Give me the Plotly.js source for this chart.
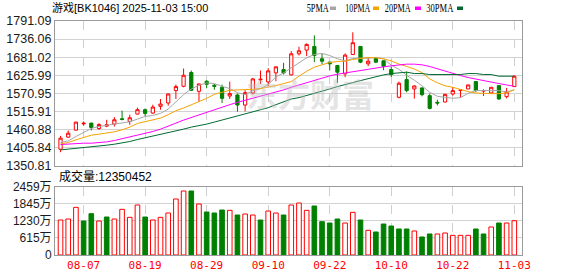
<!DOCTYPE html>
<html><head><meta charset="utf-8">
<script src="https://cdn.plot.ly/plotly-3.0.1.min.js"></script>
<style>html,body{margin:0;padding:0;background:#fff}#c{width:578px;height:276px}</style>
</head><body><div id="c"></div>
<script>
const dates = ["08-04","08-05","08-06","08-07","08-08","08-11","08-12","08-13","08-14","08-15","08-18","08-19","08-20","08-21","08-22","08-25","08-26","08-27","08-28","08-29",
"09-01","09-02","09-03","09-04","09-05","09-08","09-09","09-10","09-11","09-12","09-15","09-16","09-17","09-18","09-19","09-22","09-23","09-24","09-25","09-26","09-29","09-30",
"10-09","10-10","10-13","10-14","10-15","10-16","10-17","10-20","10-21","10-22","10-23","10-24","10-27","10-28","10-29","10-30","10-31","11-03"];
const openP = [1400.9,1437.6,1459.0,1478.0,1480.4,1464.1,1471.2,1477.4,1493.6,1485.5,1507.9,1521.2,1511.0,1531.4,1541.5,1579.3,1592.5,1634.3,1577.2,1607.8,1595.6,1589.4,1562.9,1566.0,1535.4,1572.1,1611.9,1605.8,1633.3,1643.4,1627.1,1691.3,1702.5,1713.8,1676.1,1665.9,1655.7,1630.2,1689.3,1713.8,1660.8,1677.1,1669.9,1643.4,1558.9,1612.9,1584.3,1587.4,1564.0,1543.6,1544.6,1569.1,1580.3,1584.3,1606.8,1578.2,1572.1,1594.5,1560.9,1591.5];
const highP = [1441.7,1458.0,1484.0,1485.5,1481.4,1480.4,1490.6,1498.7,1518.1,1505.9,1527.3,1525.2,1536.5,1553.8,1570.0,1597.6,1646.5,1640.4,1600.6,1610.8,1599.6,1597.6,1606.8,1570.1,1580.3,1618.0,1640.4,1647.5,1652.6,1663.8,1699.5,1712.7,1722.9,1747.4,1691.3,1666.9,1657.7,1692.4,1756.6,1714.8,1680.1,1681.2,1672.0,1652.6,1606.8,1637.3,1594.5,1589.4,1570.1,1551.7,1569.0,1590.4,1583.3,1597.0,1607.8,1583.3,1590.0,1595.0,1587.4,1625.1];
const lowP = [1391.8,1436.6,1458.0,1472.3,1458.0,1460.0,1468.2,1470.2,1488.6,1475.3,1506.9,1501.8,1509.0,1521.2,1533.4,1553.8,1589.4,1578.2,1546.6,1586.4,1582.3,1541.5,1553.8,1515.1,1516.1,1568.0,1599.6,1592.5,1607.8,1628.2,1626.1,1686.2,1684.2,1665.9,1659.8,1640.4,1602.7,1620.0,1688.3,1662.8,1653.6,1662.8,1641.4,1621.0,1555.8,1574.2,1554.8,1561.9,1522.2,1534.4,1543.6,1564.0,1557.8,1584.0,1575.2,1563.0,1571.0,1551.7,1555.8,1590.4];
const closeP = [1434.6,1449.8,1483.5,1480.0,1467.2,1476.0,1475.3,1490.6,1491.6,1496.7,1521.2,1510.0,1529.3,1538.5,1569.1,1591.5,1626.1,1580.3,1599.6,1598.6,1592.5,1555.8,1570.1,1535.4,1573.1,1614.9,1613.9,1639.4,1651.6,1633.3,1691.3,1700.5,1719.9,1686.2,1668.9,1660.8,1635.3,1687.3,1725.0,1665.9,1668.9,1665.9,1653.6,1628.2,1601.7,1579.3,1593.5,1567.0,1525.2,1541.5,1568.0,1579.3,1581.3,1596.6,1579.8,1579.3,1589.4,1553.8,1575.2,1623.1];
const ma5 = [1421.3,1426.4,1439.6,1451.9,1464.1,1470.2,1474.3,1478.4,1482.4,1484.5,1492.6,1500.8,1503.8,1510.0,1523.2,1546.6,1567.0,1584.3,1595.6,1602.7,1600.7,1592.5,1585.4,1573.1,1567.0,1579.3,1585.4,1597.6,1621.0,1633.3,1647.5,1663.8,1679.1,1689.3,1692.4,1686.2,1676.1,1669.9,1677.0,1678.5,1677.5,1680.5,1676.0,1657.0,1644.0,1626.0,1611.0,1594.0,1574.0,1562.0,1559.0,1556.0,1558.0,1571.0,1579.5,1580.3,1579.3,1579.3,1575.2,1581.3];
const ma10 = [1417.2,1421.3,1429.5,1437.6,1443.7,1446.8,1449.8,1453.9,1460.0,1468.2,1479.4,1484.5,1489.6,1495.7,1505.9,1518.1,1526.3,1535.4,1545.6,1555.8,1568.0,1575.2,1580.3,1581.3,1581.3,1583.3,1585.4,1589.4,1594.5,1600.7,1606.8,1623.1,1638.4,1650.6,1658.7,1664.8,1667.9,1668.9,1674.0,1678.1,1680.1,1679.1,1676.1,1669.9,1660.0,1653.0,1645.0,1634.0,1615.0,1603.0,1594.0,1589.4,1582.3,1576.2,1572.1,1570.1,1570.1,1570.1,1572.1,1582.3];
const ma20 = [1415.2,1417.2,1418.3,1419.3,1419.3,1420.3,1423.3,1427.4,1432.5,1437.6,1442.7,1448.8,1454.9,1462.1,1470.2,1480.4,1489.6,1497.7,1505.9,1513.0,1521.2,1529.3,1536.5,1543.6,1549.7,1554.8,1560.9,1567.0,1574.2,1581.3,1589.4,1596.6,1603.7,1609.8,1617.0,1624.1,1629.2,1633.3,1637.3,1641.4,1644.5,1647.5,1651.6,1654.7,1657.7,1659.8,1659.8,1657.7,1652.6,1645.5,1637.3,1630.2,1625.1,1619.0,1613.9,1608.8,1604.7,1600.7,1596.6,1592.5];
const ma30 = [1398.9,1400.9,1403.0,1405.0,1407.0,1410.1,1413.2,1416.2,1419.3,1424.4,1430.5,1435.6,1440.7,1445.8,1450.9,1454.9,1462.1,1468.2,1472.3,1477.4,1483.5,1489.6,1494.7,1500.8,1506.9,1514.0,1521.2,1527.3,1536.5,1545.6,1553.8,1557.9,1564.0,1570.1,1576.2,1584.3,1591.5,1596.6,1603.7,1609.8,1615.9,1622.1,1627.1,1631.2,1634.3,1635.3,1631.2,1631.2,1628.2,1628.2,1628.2,1628.2,1628.2,1631.2,1631.2,1628.2,1628.2,1623.1,1623.1,1623.1];
const volume = [1260,1296,1716,1224,1488,1224,1368,1296,1644,1356,1800,1368,1260,1356,1512,2016,2304,2304,1836,
1548,1512,1620,1608,1440,1476,1440,1260,1584,1512,1440,1800,1872,1608,1764,1200,1152,1296,1152,1536,1260,888,828,1116,1044,
936,936,864,648,756,756,792,708,708,708,936,756,1008,1152,1152,1235.0452];
const xTicks = ["08-07","08-19","08-29","09-10","09-22","10-10","10-22","11-03"];
const priceTicks = [1350.81,1405.84,1460.88,1515.91,1570.95,1625.99,1681.02,1736.06,1791.09];
const volTicks = [0,615,1230,1845,2459];
const volTickText = ["0","615万","1230万","1845万","2459万"];
const maNames = ["5PMA","10PMA","20PMA","30PMA"];
const lastVolume = "12350452";
const titleText = "游戏[BK1046] 2025-11-03 15:00";

const RED = "#ff0000", GREEN = "#008000";
const maColors = ["#a6a6a6","#f4a300","#ff00ff","#006a32"];
const volUp = volume.map((v,i) => i === 0 ? closeP[i] >= openP[i] : closeP[i] >= closeP[i-1]);

const traces = [
  {type:"candlestick", x:dates, open:openP, high:highP, low:lowP, close:closeP, xaxis:"x", yaxis:"y",
   increasing:{line:{color:RED,width:1}, fillcolor:"#ffffff"},
   decreasing:{line:{color:GREEN,width:1}, fillcolor:GREEN},
   whiskerwidth:0, hoverinfo:"skip"},
];
[ma5, ma10, ma20, ma30].forEach((m,k) => traces.push({type:"scatter", mode:"lines", x:dates, y:m, xaxis:"x", yaxis:"y",
  line:{color:maColors[k], width:1}, hoverinfo:"skip"}));
traces.push({type:"bar", x:dates, y:volume, xaxis:"x2", yaxis:"y2",
  marker:{color:volUp.map(u => u ? "#ffffff" : GREEN), line:{color:volUp.map(u => u ? RED : GREEN), width:1}},
  hoverinfo:"skip"});

const L = 55, T = 21;
const ann = [];
ann.push({text:titleText, xref:"paper", yref:"paper", x:0, y:1, xshift:50-L, yshift:T-8, xanchor:"left", yanchor:"middle",
  showarrow:false, font:{family:"Liberation Sans, Noto Sans CJK SC", size:11, color:"#000"}});
const legCenter = [317, 357.5, 398, 440];
const legWidth = [22, 25, 26, 27];
const sqX = [330, 373, 415, 457];
const shapes = [];
maNames.forEach((n,k) => {
  ann.push({text:n, xref:"paper", yref:"paper", x:0, y:1, xshift:legCenter[k]-L, yshift:T-8, xanchor:"center", yanchor:"middle",
    showarrow:false, font:{family:"Liberation Serif", size:12.5, color:"#000"}});
  shapes.push({type:"rect", xref:"paper", yref:"paper", xsizemode:"pixel", ysizemode:"pixel", xanchor:0, yanchor:1,
    x0:sqX[k]-L, x1:sqX[k]-L+6, y0:T-10, y1:T-6.5, fillcolor:maColors[k], line:{width:0}});
});
ann.push({text:"成交量:" + lastVolume, xref:"paper", yref:"paper", x:0, y:1, xshift:57-L, yshift:T-176, xanchor:"left", yanchor:"middle",
  showarrow:false, font:{family:"Liberation Sans, Noto Sans CJK SC", size:12, color:"#000"}});
ann.push({text:"东方财富", xref:"paper", yref:"paper", x:0, y:1, xshift:310-L, yshift:T-93, xanchor:"center", yanchor:"middle",
  showarrow:false, font:{family:"Noto Sans CJK SC", size:32, weight:700, color:"rgba(190,190,190,0.42)"}});

const axX = {type:"category", range:[-0.72, 60.0], tickvals:xTicks, showgrid:true, gridcolor:"#cfcfcf", griddash:"dash", gridwidth:1,
  showline:true, mirror:true, linecolor:"#9a9a9a", linewidth:1, ticks:"", zeroline:false, fixedrange:true};
const layout = {
  width:578, height:276, margin:{l:L, r:56, t:T, b:21}, paper_bgcolor:"#fff", plot_bgcolor:"#fff",
  showlegend:false, hovermode:false, boxgap:0.4, bargap:0.4, dragmode:false,
  xaxis:Object.assign({}, axX, {anchor:"y", showticklabels:false, rangeslider:{visible:false}}),
  xaxis2:Object.assign({}, axX, {anchor:"y2", matches:"x", showticklabels:true,
    tickfont:{family:"DejaVu Sans Mono", size:11, color:RED}}),
  yaxis:{domain:[0.3816,1], range:[1350.81,1791.09], tickvals:priceTicks, ticktext:priceTicks.map(v=>v.toFixed(2)),
    showgrid:true, gridcolor:"#d2d2d2", showline:true, mirror:true, linecolor:"#9a9a9a", zeroline:false, ticks:"",
    tickfont:{family:"Liberation Sans, DejaVu Sans", size:12.5, color:"#1a1a1a"}, fixedrange:true},
  yaxis2:{domain:[0,0.2919], range:[0,2459], tickvals:volTicks, ticktext:volTickText,
    showgrid:true, gridcolor:"#d2d2d2", showline:true, mirror:true, linecolor:"#9a9a9a", zeroline:false, ticks:"",
    tickfont:{family:"Liberation Sans, Noto Sans CJK SC", size:12, color:"#1a1a1a"}, fixedrange:true},
  annotations:ann, shapes:shapes
};
Plotly.newPlot("c", traces, layout, {staticPlot:true, displayModeBar:false}).then(gd => {
  gd.querySelectorAll("text.annotation-text").forEach(t => {
    const k = maNames.indexOf(t.textContent);
    if (k >= 0) {
      t.setAttribute("text-anchor", "middle");
      t.setAttribute("textLength", legWidth[k]);
      t.setAttribute("lengthAdjust", "spacingAndGlyphs");
    }
  });
});
</script></body></html>
